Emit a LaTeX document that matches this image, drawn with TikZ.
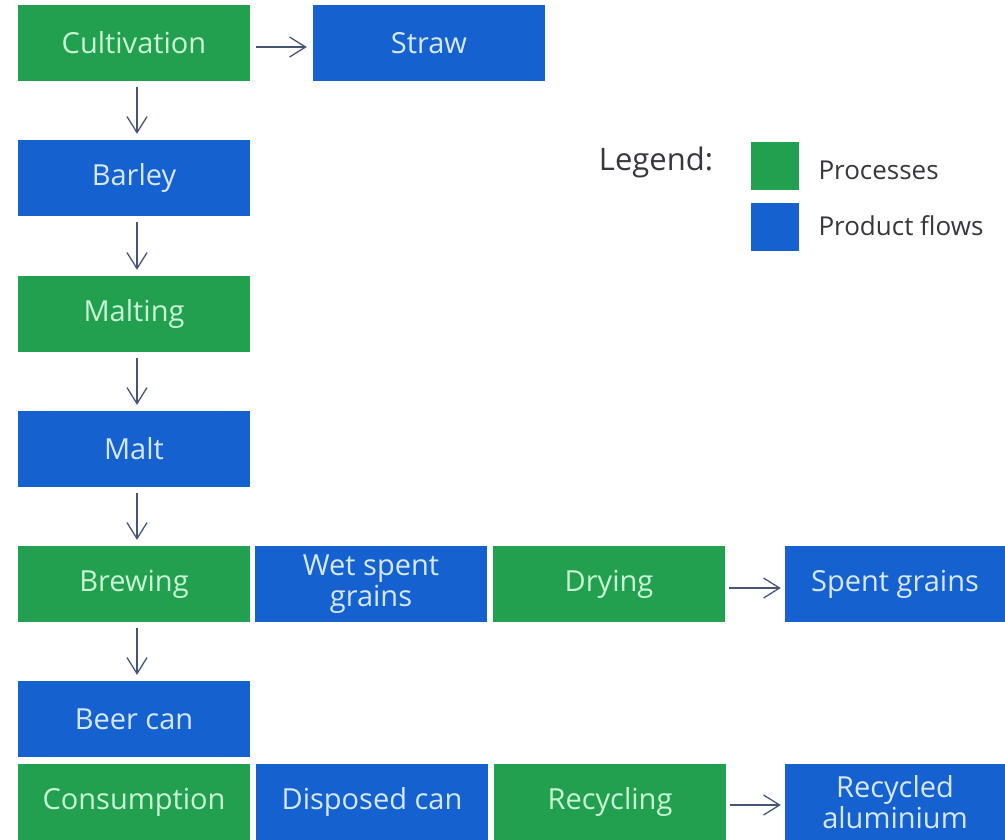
\documentclass[tikz,border=0pt]{standalone}
\usepackage{fontspec}
\setmainfont{Open Sans}
\usetikzlibrary{arrows.meta}
\definecolor{procgreen}{RGB}{34,160,80}
\definecolor{flowblue}{RGB}{21,97,208}
\definecolor{proctext}{RGB}{200,245,212}
\definecolor{flowtext}{RGB}{214,232,255}
\definecolor{arrowgray}{RGB}{70,85,118}
\definecolor{legendtext}{RGB}{55,55,60}

\begin{document}
\begin{tikzpicture}[
		x=1pt, y=-1pt,
		process/.style={rectangle,fill=procgreen,text=proctext,inner sep=0pt,
		minimum width=232pt,minimum height=76pt,align=center,
		font=\fontsize{29}{31}\selectfont},
		product/.style={process,fill=flowblue,text=flowtext},
		flow/.style={-{Straight Barb[length=16pt,width=20pt]},draw=arrowgray,
		line width=1.3pt,shorten <=6pt,shorten >=6pt},
		legendbox/.style={rectangle,inner sep=0pt,minimum size=48pt},
		legendlabel/.style={anchor=west,text=legendtext,font=\fontsize{26}{30}\selectfont}
		]
		\useasboundingbox (0,0) rectangle (1005,839);
		% main chain
		\node[process] (cult) at (134,43) {Cultivation};
		\node[product] (straw) at (429,43) {Straw};
		\node[product] (barley) at (134,178) {Barley};
		\node[process] (malting) at (134,314) {Malting};
		\node[product] (malt) at (134,449) {Malt};
		\node[process] (brew) at (134,584) {Brewing};
		\node[product] (wet) at (371,584) {Wet spent\\grains};
		\node[process] (dry) at (609,584) {Drying};
		\node[product, minimum width=220pt] (spent) at (895,584) {Spent grains};
		\node[product] (can) at (134,719) {Beer can};
		\node[process] (consume) at (134,802) {Consumption};
		\node[product] (disposed) at (372,802) {Disposed can};
		\node[process] (recycle) at (610,802) {Recycling};
		\node[product, minimum width=220pt] (alu) at (895,802) {Recycled\\aluminium};
		\draw[flow] ([yshift=-4pt]cult.east) -- ([yshift=-4pt]straw.west);
		\draw[flow] ([xshift=3pt]cult.south) -- ([xshift=3pt]barley.north);
		\draw[flow] ([xshift=3pt]barley.south) -- ([xshift=3pt]malting.north);
		\draw[flow] ([xshift=3pt]malting.south) -- ([xshift=3pt]malt.north);
		\draw[flow] ([xshift=3pt]malt.south) -- ([xshift=3pt]brew.north);
		\draw[flow] ([xshift=3pt]brew.south) -- ([xshift=3pt]can.north);
		\draw[flow, shorten <=4pt, shorten >=4pt] ([yshift=-4pt]dry.east) -- ([yshift=-4pt]spent.west);
		\draw[flow, shorten <=4pt, shorten >=4pt] ([yshift=-3pt]recycle.east) -- ([yshift=-3pt]alu.west);
		% legend
		\node[text=legendtext, font=\fontsize{31}{34}\selectfont] (legend) at (656,162) {Legend:};
		\node[legendbox, fill=procgreen] (lgreen) at (775,166) {};
		\node[legendbox, fill=flowblue] (lblue) at (775,227) {};
		\node[legendlabel] (lproc) at (815,170) {Processes};
		\node[legendlabel] (lprod) at (815,226) {Product flows};
	\end{tikzpicture}
\end{document}
